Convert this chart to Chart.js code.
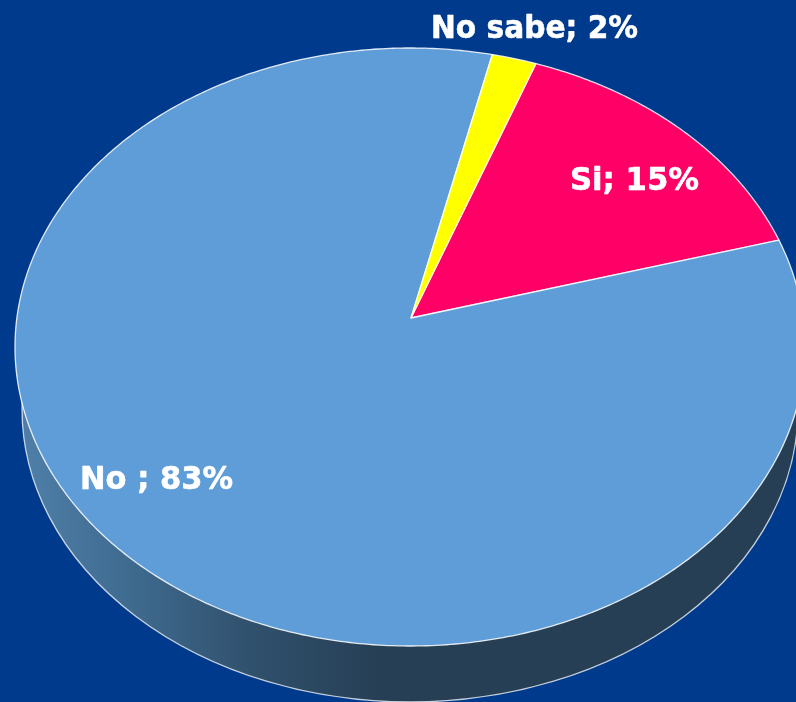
<!DOCTYPE html>
<html>
<head>
<meta charset="utf-8">
<title>Pie</title>
<script src="https://cdn.jsdelivr.net/npm/chart.js@4"></script>
<style>
html,body{margin:0;padding:0;background:#003a8c;overflow:hidden}
canvas{display:block}
</style>
</head>
<body>
<canvas id="c" width="796" height="702"></canvas>
<script>
const categories = ["Si", "No ", "No sabe"];
const values = [15, 83, 2];
const sliceColors = ["#ff0066", "#5f9dd8", "#ffff00"];

// Perspective view of the disc: top ellipse, wall ellipse, projected apex
const top3d = {cx: 410, cy: 347, rx: 395, ry: 299};
const wall3d = {cx: 410, cy: 409, rx: 388, ry: 293};
const apex = {x: 411, y: 318};
const labelPos = [[570, 190, 129], [80, 489, 153], [431, 38, 207]];

function project(u, v) {
  const ax = (apex.x - top3d.cx) / top3d.rx, ay = (apex.y - top3d.cy) / top3d.ry;
  const a2 = ax * ax + ay * ay, dot = ax * u + ay * v, s = Math.sqrt(1 - a2);
  const k = a2 > 0 ? dot / a2 : 0;
  const px = k * ax, py = k * ay;
  const d = 1 + dot;
  const x = (ax + px + s * (u - px)) / d, y = (ay + py + s * (v - py)) / d;
  return [top3d.cx + top3d.rx * x, top3d.cy + top3d.ry * y];
}

const pie3d = {
  id: 'pie3d',
  beforeDatasetsDraw(chart) {
    const ctx = chart.ctx;
    ctx.save();
    ctx.beginPath();
    ctx.ellipse(wall3d.cx, wall3d.cy, wall3d.rx, wall3d.ry, 0, 0, Math.PI * 2);
    const g = ctx.createLinearGradient(20, 0, 380, 0);
    g.addColorStop(0, '#4f7fa8');
    g.addColorStop(0.3, '#3f6b90');
    g.addColorStop(0.65, '#30506c');
    g.addColorStop(1, '#263f55');
    ctx.fillStyle = g;
    ctx.fill();
    ctx.lineWidth = 1.3;
    ctx.strokeStyle = 'rgba(255,255,255,0.75)';
    ctx.stroke();
    ctx.restore();
  },
  beforeDatasetDraw(chart, args) {
    const ctx = chart.ctx;
    const arcs = chart.getDatasetMeta(args.index).data;
    const ds = chart.data.datasets[args.index];
    arcs.forEach((arc, i) => {
      const a0 = arc.startAngle, a1 = arc.endAngle;
      ctx.beginPath();
      const c = project(0, 0);
      ctx.moveTo(c[0], c[1]);
      const n = Math.max(8, Math.ceil((a1 - a0) * 90));
      for (let k = 0; k <= n; k++) {
        const t = a0 + (a1 - a0) * k / n;
        const p = project(Math.cos(t), Math.sin(t));
        ctx.lineTo(p[0], p[1]);
      }
      ctx.closePath();
      ctx.fillStyle = ds.backgroundColor[i];
      ctx.fill();
      ctx.lineWidth = 1.3;
      ctx.lineJoin = 'round';
      ctx.strokeStyle = 'rgba(255,255,255,0.85)';
      ctx.stroke();
    });
    return false;
  },
  afterDatasetsDraw(chart) {
    const ctx = chart.ctx;
    ctx.save();
    ctx.font = 'bold 32px "DejaVu Sans"';
    ctx.fillStyle = '#ffffff';
    ctx.strokeStyle = '#ffffff';
    ctx.lineWidth = 0.6;
    ctx.textAlign = 'left';
    ctx.textBaseline = 'alphabetic';
    categories.forEach((cat, i) => {
      const t = cat + '; ' + values[i] + '%';
      const p = labelPos[i];
      ctx.fillText(t, p[0], p[1], p[2]);
      ctx.strokeText(t, p[0], p[1], p[2]);
    });
    ctx.restore();
  }
};

new Chart(document.getElementById('c'), {
  type: 'pie',
  data: {
    labels: categories,
    datasets: [{data: values, backgroundColor: sliceColors}]
  },
  options: {
    responsive: false,
    animation: false,
    rotation: 20.3,
    plugins: {legend: {display: false}, tooltip: {enabled: false}}
  },
  plugins: [pie3d]
});
</script>
</body>
</html>
